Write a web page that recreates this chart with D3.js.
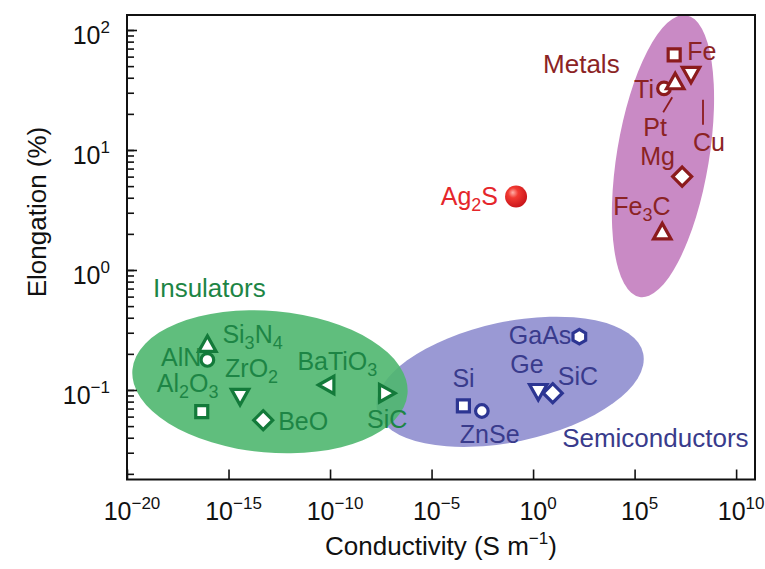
<!DOCTYPE html>
<html><head><meta charset="utf-8">
<script src="https://cdn.jsdelivr.net/npm/d3@7"></script>
<style>
body{margin:0;background:#fff}
svg{display:block}
text{font-family:"Liberation Sans",Arial,Helvetica,sans-serif}
</style>
</head><body>
<svg id="chart" width="765" height="569"></svg>
<script>
// ---------------- data ----------------
const insulatorNames = ["Si_3N_4", "AlN", "ZrO_2", "Al_2O_3", "BeO", "BaTiO_3", "SiC"];
const insulatorConductivity = [9.1e-17, 9.1e-17, 3.7e-15, 4.8e-17, 5.1e-14, 8.3e-11, 5.1e-8];
const insulatorElongation = [0.233, 0.178, 0.091, 0.066, 0.056, 0.11, 0.094];
const insulatorShapes = ["triUp", "circle", "triDown", "square", "diamond", "triLeft", "triRight"];

const semiNames = ["Si", "ZnSe", "Ge", "SiC", "GaAs"];
const semiConductivity = [3.7e-4, 3.0e-3, 1.8, 9.3, 190];
const semiElongation = [0.0736, 0.0668, 0.100, 0.094, 0.278];
const semiShapes = ["square", "circle", "triDown", "diamond", "hexagon"];

const metalNames = ["Ti", "Pt", "Fe", "Cu", "Mg", "Fe_3C"];
const metalConductivity = [2.8e6, 1.0e7, 8.9e6, 6.0e7, 2.2e7, 2.3e6];
const metalElongation = [32.6, 36, 62, 44, 6.0, 2.02];
const metalShapes = ["circle", "triUp", "square", "triDown", "diamond", "triUp"];

const ag2sName = "Ag_2S";
const ag2sConductivity = 0.145;
const ag2sElongation = 4.1;

const groupNames = ["Insulators", "Semiconductors", "Metals"];
const xTickExponents = [-20, -15, -10, -5, 0, 5, 10];
const yTickExponents = [-1, 0, 1, 2];

// region ellipses (centre in data units, radii in decades)
const regionCenterX = [1.1e-13, 0.074, 2.5e6];
const regionCenterY = [0.117, 0.117, 8.9];
const regionRadiusXDecades = [6.8, 6.7, 2.27];
const regionRadiusYDecades = [0.59, 0.5, 1.19];
const regionAngle = [5, -12, 9.4];

// group label anchors (data units)
const groupLabelX = [1.9e-19, 27, 3.1];
const groupLabelY = [0.596, 0.0335, 43.8];

// ---------------- layout / style ----------------
const W = 765, H = 569;
const M = {left: 127, right: 10, top: 15, bottom: 89.5};
const colors = {
  ins: {fill: "#4fb76f", mark: "#137a3a", text: "#1d8545"},
  semi: {fill: "#9a99d4", mark: "#2c3592", text: "#393b8c"},
  metal: {fill: "#c98ac5", mark: "#8b1b1d", text: "#8b2324"},
  ag: "#e5262b"
};
const labelLayout = {
  ins: {
    "Si_3N_4": [15, -3, "start"], "AlN": [-6, 6, "end"], "ZrO_2": [-15, -18, "start"],
    "Al_2O_3": [-45, -20, "start"], "BeO": [15, 10, "start"], "BaTiO_3": [-31, -15, "start"],
    "SiC": [-18, 35, "start"]
  },
  semi: {
    "Si": [-11, -19, "start"], "ZnSe": [-22, 32, "start"], "Ge": [-28, -17, "start"],
    "SiC": [5, -8, "start"], "GaAs": [-8, 7, "end"]
  },
  metal: {
    "Ti": [-10, 10, "end"], "Pt": [-32, 53, "start"], "Fe": [13, 5, "start"],
    "Cu": [2, 78, "start"], "Mg": [-42, -12, "start"], "Fe_3C": [-49, -18, "start"]
  }
};
const leaderLines = {metal: {"Pt": [-12, 29, -3, 14], "Cu": [12, 27, 12, 52]}};
const FS = 25, GFS = 26, AFS = 26;

const svg = d3.select("#chart");
const x = d3.scaleLog().domain([1e-20, Math.pow(10, 10.93)]).range([M.left, W - M.right]);
const y = d3.scaleLog().domain([Math.pow(10, -1.746), Math.pow(10, 2.125)]).range([H - M.bottom, M.top]);

// ---------------- ellipses ----------------
const regionFill = [colors.ins.fill, colors.semi.fill, colors.metal.fill];
const regionOpacity = [0.9, 1, 1];
const gReg = svg.append("g");
[2, 1, 0].forEach(i => {
  const cx = x(regionCenterX[i]), cy = y(regionCenterY[i]);
  const rx = x(regionCenterX[i] * Math.pow(10, regionRadiusXDecades[i])) - cx;
  const ry = cy - y(regionCenterY[i] * Math.pow(10, regionRadiusYDecades[i]));
  gReg.append("ellipse")
    .attr("transform", `translate(${cx},${cy}) rotate(${regionAngle[i]})`)
    .attr("rx", rx).attr("ry", ry)
    .attr("fill", regionFill[i]).attr("fill-opacity", regionOpacity[i]);
});

// ---------------- axes ----------------
const minorY = [];
for (let e = -2; e <= 2; e++) for (let m = 1; m <= 9; m++) {
  const v = m * Math.pow(10, e);
  if (v >= y.domain()[0] && v <= y.domain()[1]) minorY.push(v);
}
const majorY = yTickExponents.map(e => Math.pow(10, e));
const yMinorAxis = svg.append("g").attr("transform", `translate(${M.left},0)`)
  .call(d3.axisLeft(y).tickValues(minorY).tickSize(-7).tickFormat(""));
const yMajorAxis = svg.append("g").attr("transform", `translate(${M.left},0)`)
  .call(d3.axisLeft(y).tickValues(majorY).tickSize(-10).tickFormat(""));
const xTicks = xTickExponents.map(e => Math.pow(10, e));
const xAxis = svg.append("g").attr("transform", `translate(0,${H - M.bottom})`)
  .call(d3.axisBottom(x).tickValues(xTicks).tickSize(-10).tickFormat(""));
[yMinorAxis, yMajorAxis, xAxis].forEach(g => {
  g.select(".domain").remove();
  g.selectAll("line").attr("stroke", "#111").attr("stroke-width", 1.6);
});
svg.append("rect").attr("x", M.left).attr("y", M.top)
  .attr("width", W - M.right - M.left).attr("height", H - M.bottom - M.top)
  .attr("fill", "none").attr("stroke", "#111").attr("stroke-width", 2);

function powLabel(sel, e) {
  sel.append("tspan").text("10");
  sel.append("tspan").attr("font-size", 17).attr("dy", -11)
    .text(e < 0 ? "\u2212" + Math.abs(e) : String(e));
}
xTickExponents.forEach((e, i) => {
  const t = svg.append("text").attr("x", x(xTicks[i]) + 5).attr("y", 520)
    .attr("text-anchor", "middle").attr("font-size", FS).attr("fill", "#111");
  powLabel(t, e);
});
yTickExponents.forEach((e, i) => {
  const t = svg.append("text").attr("x", 110).attr("y", y(majorY[i]) + 14)
    .attr("text-anchor", "end").attr("font-size", FS).attr("fill", "#111");
  powLabel(t, e);
});
const xt = svg.append("text").attr("x", (M.left + W - M.right) / 2).attr("y", 555)
  .attr("text-anchor", "middle").attr("font-size", AFS).attr("fill", "#111");
xt.append("tspan").text("Conductivity (S m");
xt.append("tspan").attr("font-size", 17).attr("dy", -11).text("\u22121");
xt.append("tspan").attr("dy", 11).text(")");
svg.append("text").attr("transform", `translate(46,212) rotate(-90)`)
  .attr("text-anchor", "middle").attr("font-size", AFS).attr("fill", "#111")
  .text("Elongation (%)");

// ---------------- markers ----------------
function shapePath(shape) {
  const p = d3.path();
  const poly = pts => { p.moveTo(pts[0][0], pts[0][1]); pts.slice(1).forEach(q => p.lineTo(q[0], q[1])); p.closePath(); };
  switch (shape) {
    case "square": poly([[-6, -6], [6, -6], [6, 6], [-6, 6]]); break;
    case "circle": p.arc(0, 0, 6.3, 0, 2 * Math.PI); break;
    case "diamond": poly([[0, -9.5], [9.5, 0], [0, 9.5], [-9.5, 0]]); break;
    case "triUp": poly([[0, -10], [8.7, 5.5], [-8.7, 5.5]]); break;
    case "triDown": poly([[0, 10], [8.7, -5.5], [-8.7, -5.5]]); break;
    case "triLeft": poly([[-10, 0], [5.5, -8.7], [5.5, 8.7]]); break;
    case "triRight": poly([[10, 0], [-5.5, -8.7], [-5.5, 8.7]]); break;
    case "hexagon": {
      const pts = d3.range(6).map(k => { const a = Math.PI / 3 * k - Math.PI / 2; return [7.3 * Math.cos(a), 7.3 * Math.sin(a)]; });
      poly(pts); break;
    }
  }
  return p.toString();
}
function richText(sel, str, size) {
  const parts = str.split(/(_\d)/).filter(s => s);
  let sub = false;
  parts.forEach(s => {
    if (s[0] === "_") {
      sel.append("tspan").attr("font-size", size * 0.72).attr("dy", 6).text(s.slice(1));
      sub = true;
    } else {
      const t = sel.append("tspan").text(s);
      if (sub) { t.attr("dy", -6); sub = false; }
    }
  });
}
function drawGroup(key, names, xs, ys, shapes) {
  const c = colors[key];
  const g = svg.append("g");
  const lines = leaderLines[key] || {};
  names.forEach((n, i) => {
    const px = x(xs[i]), py = y(ys[i]);
    if (lines[n]) {
      const L = lines[n];
      g.append("line").attr("x1", px + L[0]).attr("y1", py + L[1]).attr("x2", px + L[2]).attr("y2", py + L[3])
        .attr("stroke", c.mark).attr("stroke-width", 1.8);
    }
    g.append("path").attr("d", shapePath(shapes[i])).attr("transform", `translate(${px},${py})`)
      .attr("fill", "#fff").attr("stroke", c.mark).attr("stroke-width", 3.2).attr("stroke-linejoin", "miter");
    const lay = labelLayout[key][n];
    const t = g.append("text").attr("x", px + lay[0]).attr("y", py + lay[1])
      .attr("text-anchor", lay[2]).attr("font-size", FS).attr("fill", c.text);
    richText(t, n, FS);
  });
}
drawGroup("ins", insulatorNames, insulatorConductivity, insulatorElongation, insulatorShapes);
drawGroup("semi", semiNames, semiConductivity, semiElongation, semiShapes);
drawGroup("metal", metalNames, metalConductivity, metalElongation, metalShapes);

// Ag2S sphere
const defs = svg.append("defs");
const rg = defs.append("radialGradient").attr("id", "agGrad").attr("cx", "40%").attr("cy", "38%").attr("r", "65%").attr("fx", "35%").attr("fy", "32%");
rg.append("stop").attr("offset", "0%").attr("stop-color", "#ffb0a8");
rg.append("stop").attr("offset", "35%").attr("stop-color", "#f23a32");
rg.append("stop").attr("offset", "100%").attr("stop-color", "#c8141a");
const agx = x(ag2sConductivity), agy = y(ag2sElongation);
svg.append("circle").attr("cx", agx).attr("cy", agy).attr("r", 11).attr("fill", "url(#agGrad)");
const agt = svg.append("text").attr("x", agx - 18).attr("y", agy + 9).attr("text-anchor", "end")
  .attr("font-size", FS).attr("fill", colors.ag);
richText(agt, ag2sName, FS);

// group labels
const groupColors = [colors.ins.text, colors.semi.text, colors.metal.text];
groupNames.forEach((n, i) => {
  svg.append("text").attr("x", x(groupLabelX[i])).attr("y", y(groupLabelY[i]))
    .attr("font-size", GFS).attr("fill", groupColors[i]).text(n);
});
</script>
</body></html>
